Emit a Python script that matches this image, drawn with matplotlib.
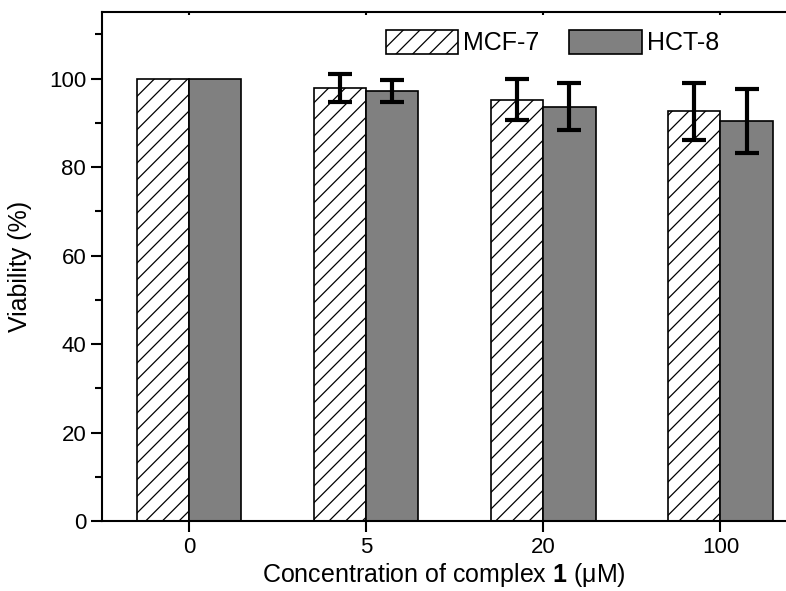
import numpy as np
import matplotlib
matplotlib.use('Agg')
import matplotlib.pyplot as plt

plt.rcParams['font.family'] = ['Liberation Sans', 'DejaVu Sans']
plt.rcParams['mathtext.fontset'] = 'custom'
plt.rcParams['mathtext.rm'] = 'Liberation Sans'
plt.rcParams['mathtext.it'] = 'Liberation Sans:italic'
plt.rcParams['mathtext.bf'] = 'Liberation Sans:bold'
plt.rcParams['hatch.linewidth'] = 0.9

# data
concentrations = ['0', '5', '20', '100']
mcf7 = [100, 97.9, 95.2, 92.6]
mcf7_err = [0, 3.2, 4.6, 6.4]
hct8 = [100, 97.2, 93.6, 90.4]
hct8_err = [0, 2.5, 5.3, 7.2]

x = np.arange(len(concentrations))
w = 0.295

fig = plt.figure(figsize=(7.86, 5.91), dpi=100)
ax = fig.add_axes([0.13, 0.1184, 0.87, 0.861])

ax.bar(x - w/2, mcf7, w, color='white', edgecolor='black', hatch='//',
       linewidth=1.2, label='MCF-7')
ax.bar(x + w/2, hct8, w, color='#808080', edgecolor='black',
       linewidth=1.2, label='HCT-8')

# error bars (skip zero errors)
for xs, vals, errs in [(x - w/2, mcf7, mcf7_err), (x + w/2, hct8, hct8_err)]:
    for xi, v, e in zip(xs, vals, errs):
        if e > 0:
            ax.errorbar(xi, v, yerr=e, fmt='none', ecolor='black',
                        elinewidth=3, capsize=8.5, capthick=3)

ax.set_xlim(-0.49, 3.37)
ax.set_ylim(0, 115)
ax.set_xticks(x)
ax.set_xticklabels(concentrations)
ax.set_yticks(np.arange(0, 101, 20))
ax.set_yticks(np.arange(10, 111, 20), minor=True)

ax.spines['right'].set_visible(False)
for s in ['left', 'bottom', 'top']:
    ax.spines[s].set_linewidth(1.5)

ax.tick_params(axis='both', which='major', direction='out', length=8,
               width=1.5, labelsize=16)
ax.tick_params(axis='y', which='minor', direction='out', length=5, width=1.5)
ax.tick_params(axis='x', which='major', top=False)
ax2 = ax.secondary_xaxis('top')
ax2.set_xticks(x)
ax2.tick_params(axis='x', direction='in', length=2, width=1.5, labeltop=False)
ax2.spines['top'].set_visible(False)

ax.set_ylabel('Viability (%)', fontsize=18, labelpad=12)
ax.set_xlabel('Concentration of complex $\\mathbf{1}$ (\u03bcM)',
              fontsize=18, labelpad=2)

ax.legend(loc='upper right', bbox_to_anchor=(0.935, 1.01), ncol=2,
          frameon=False, fontsize=18, handlelength=2.9, handleheight=1.1,
          columnspacing=1.2, handletextpad=0.2)

fig.savefig('out.png', dpi=100)
